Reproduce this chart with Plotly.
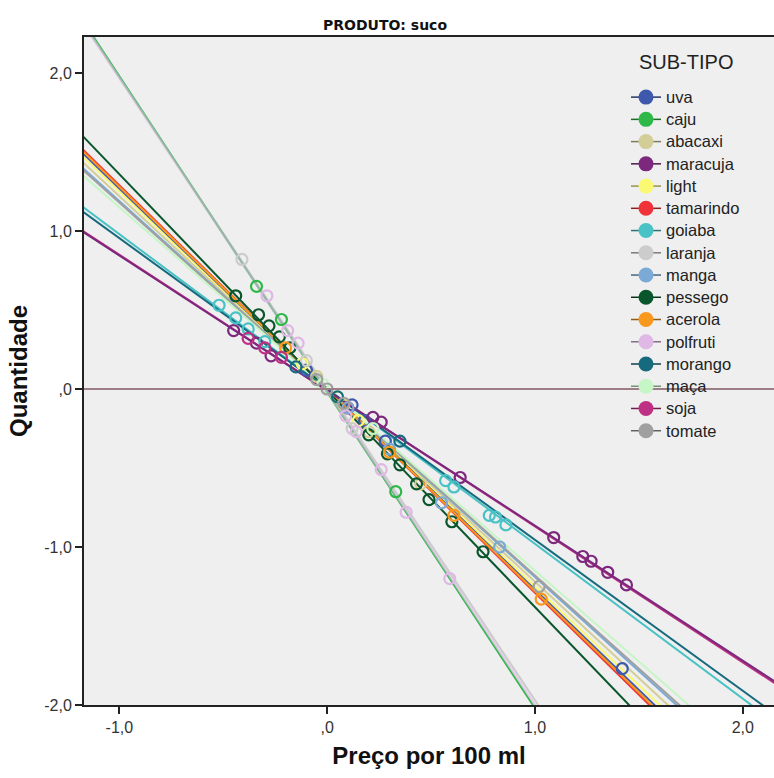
import plotly.graph_objects as go

# Sub-types of the "suco" product
subtipos = ["uva", "caju", "abacaxi", "maracuja", "light", "tamarindo", "goiaba",
            "laranja", "manga", "pessego", "acerola", "polfruti", "morango",
            "maça", "soja", "tomate"]

cores = ["#3e58ac", "#2eb848", "#d3ce97", "#7c287d", "#fbf873", "#ef3338", "#48c2c5",
         "#cccccc", "#7aaad5", "#0a562c", "#f8981d", "#dfb8e6", "#166a7e",
         "#c6f5c6", "#be3083", "#a0a0a0"]

# Linear fit of each sub-type: Quantidade = a + b * Preço
inclinacao = [-1.27, -2.00, -1.22, -0.855, -1.25, -1.29, -0.98,
              -1.97, -1.19, -1.37, -1.28, -1.985, -0.955,
              -1.15, -0.86, -1.18]
intercepto = [0.00, -0.02, 0.00, -0.01, 0.00, 0.00, 0.00,
              0.00, 0.00, -0.01, 0.00, -0.015, 0.00,
              0.00, -0.01, 0.00]

# drawing order of the fit lines (later ones on top)
ordem_linhas = ["soja", "tamarindo", "laranja", "abacaxi", "light", "manga",
                "tomate", "maça", "uva", "acerola", "pessego", "goiaba", "morango",
                "maracuja", "caju", "polfruti"]

# Standardised observations (price, quantity) per sub-type
preco = {
    "uva": [-0.10, 0.12, 0.18, 0.28, 1.42],
    "caju": [-0.34, -0.22, 0.33],
    "abacaxi": [-0.05, 0.08, 0.20, 0.45],
    "maracuja": [-0.45, -0.34, -0.27, 0.22, 0.26, 0.64, 1.09, 1.23, 1.27, 1.35, 1.44],
    "light": [0.05, 0.15, -0.12],
    "tamarindo": [0.10],
    "goiaba": [-0.52, -0.44, -0.38, -0.30, 0.57, 0.61, 0.78, 0.81, 0.86],
    "laranja": [-0.41, -0.10, 0.12],
    "manga": [0.55, 0.83, 0.10, 0.30],
    "pessego": [-0.44, -0.33, -0.28, -0.23, -0.18, 0.20, 0.29, 0.35, 0.43, 0.49, 0.60, 0.75],
    "acerola": [0.61, 1.03, 0.30, -0.20],
    "polfruti": [-0.29, -0.19, -0.14, 0.09, 0.14, 0.26, 0.38, 0.59],
    "morango": [-0.15, 0.05, 0.35],
    "maça": [0.22, -0.02],
    "soja": [-0.30, -0.22, -0.38],
    "tomate": [1.02, 0.00, 0.08, -0.05],
}
quantidade = {
    "uva": [0.12, -0.10, -0.20, -0.33, -1.77],
    "caju": [0.65, 0.44, -0.65],
    "abacaxi": [0.08, -0.10, -0.27, -0.60],
    "maracuja": [0.37, 0.29, 0.21, -0.18, -0.21, -0.56, -0.94, -1.06, -1.09, -1.16, -1.24],
    "light": [-0.05, -0.20, 0.16],
    "tamarindo": [-0.12],
    "goiaba": [0.53, 0.45, 0.38, 0.30, -0.58, -0.62, -0.80, -0.81, -0.86],
    "laranja": [0.82, 0.18, -0.25],
    "manga": [-0.72, -1.00, -0.12, -0.38],
    "pessego": [0.59, 0.47, 0.40, 0.33, 0.26, -0.29, -0.41, -0.48, -0.60, -0.70, -0.84, -1.03],
    "acerola": [-0.80, -1.33, -0.40, 0.26],
    "polfruti": [0.59, 0.37, 0.29, -0.17, -0.27, -0.51, -0.78, -1.20],
    "morango": [0.14, -0.05, -0.33],
    "maça": [-0.25, 0.03],
    "soja": [0.26, 0.20, 0.32],
    "tomate": [-1.25, 0.00, -0.09, 0.06],
}

eixo_x = [-1.17, 2.15]
eixo_y = [-2.0, 2.228]
ticks_x = [-1.0, 0.0, 1.0, 2.0]
rotulos_x = ["-1,0", ",0", "1,0", "2,0"]
ticks_y = [-2.0, -1.0, 0.0, 1.0, 2.0]
rotulos_y = ["-2,0", "-1,0", ",0", "1,0", "2,0"]

cor_de = dict(zip(subtipos, cores))
reta_de = {n: (a, b) for n, a, b in zip(subtipos, intercepto, inclinacao)}


def escurecer(hexcor, f=0.6):
    r, g, b = (int(hexcor[i:i + 2], 16) for i in (1, 3, 5))
    return "rgb({},{},{})".format(int(r * f), int(g * f), int(b * f))


fig = go.Figure()

# fit lines across the whole price range
for nome in ordem_linhas:
    a, b = reta_de[nome]
    xs = [eixo_x[0] - 0.1, eixo_x[1] + 0.1]
    fig.add_trace(go.Scatter(
        x=xs, y=[a + b * v for v in xs], mode="lines",
        line=dict(color=cor_de[nome], width=2.5 if nome == "polfruti" else 2),
        opacity=0.6 if nome == "polfruti" else 1.0,
        showlegend=False, hoverinfo="skip"))

# observations as open circles
for nome, cor in zip(subtipos, cores):
    fig.add_trace(go.Scatter(
        x=preco[nome], y=quantidade[nome], mode="markers",
        marker=dict(symbol="circle-open", size=11, color=cor, line=dict(width=2.2, color=cor)),
        showlegend=False, name=nome))

# legend entries
for nome, cor in zip(subtipos, cores):
    fig.add_trace(go.Scatter(
        x=[None], y=[None], mode="lines+markers",
        name='<span style="font-size:16.5px">{}</span>'.format(nome),
        line=dict(color=escurecer(cor), width=1.5),
        marker=dict(symbol="circle", size=15, color=cor)))

fig.add_shape(type="line", xref="paper", yref="y", x0=0, x1=1, y0=0, y1=0,
              line=dict(color="#9c7e86", width=2), layer="above")

fig.add_annotation(text="SUB-TIPO", xref="paper", yref="paper",
                   x=(686 - 84) / 690, y=(705 - 62) / 668, xanchor="center", yanchor="middle",
                   showarrow=False, font=dict(size=20, color="#222"))

fig.update_layout(
    width=774, height=778,
    margin=dict(l=84, r=0, t=37, b=73),
    paper_bgcolor="white", plot_bgcolor="#efefef",
    font=dict(family="Liberation Sans, Arial, sans-serif", color="#222"),
    title=dict(text="<b>PRODUTO: suco</b>", x=385 / 774, xanchor="center", xref="container",
               y=1 - 25 / 778, yanchor="middle",
               font=dict(size=14, family="DejaVu Sans, sans-serif", color="#111")),
    showlegend=True,
    legend=dict(
        x=(626 - 84) / 690, xanchor="left", y=(705 - 81) / 668, yanchor="top",
        bgcolor="rgba(0,0,0,0)", borderwidth=0,
        font=dict(size=14.8, color="#222"),
        itemwidth=30, tracegroupgap=0,
    ),
    xaxis=dict(
        range=eixo_x, tickvals=ticks_x, ticktext=rotulos_x,
        showgrid=False, zeroline=False, showline=True, linecolor="#222", linewidth=2,
        mirror=True, ticks="outside", ticklen=7, tickwidth=2, tickcolor="#222",
        tickfont=dict(size=16, color="#333"),
        title=dict(text="<b>Preço por 100 ml</b>", font=dict(size=24, color="#111"), standoff=12),
    ),
    yaxis=dict(
        range=eixo_y, tickvals=ticks_y, ticktext=rotulos_y,
        showgrid=False, zeroline=False, showline=True, linecolor="#222", linewidth=2,
        ticks="outside", ticklen=7, tickwidth=2, tickcolor="#222",
        tickfont=dict(size=16, color="#333"),
        title=dict(text="<b>Quantidade</b>", font=dict(size=24, color="#111"), standoff=10),
    ),
)

fig.write_html("out.html")
